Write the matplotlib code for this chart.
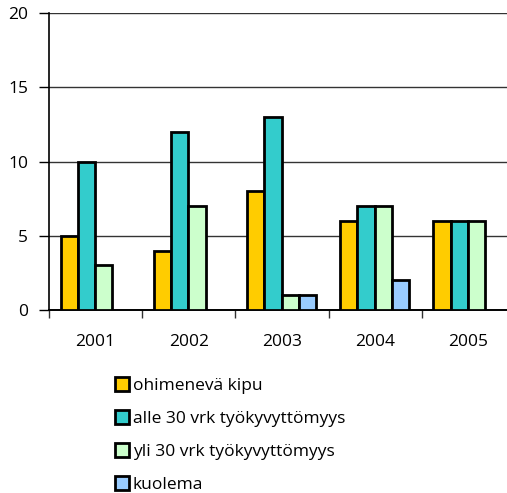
import matplotlib
matplotlib.use("Agg")
import matplotlib.pyplot as plt
from matplotlib.patches import Patch
import numpy as np

plt.rcParams['font.family'] = ['Open Sans', 'DejaVu Sans']

years = ["2001", "2002", "2003", "2004", "2005"]
series_names = ["ohimenevä kipu", "alle 30 vrk työkyvyttömyys",
                "yli 30 vrk työkyvyttömyys", "kuolema"]
ohimeneva = [5, 4, 8, 6, 6]
alle30 = [10, 12, 13, 7, 6]
yli30 = [3, 7, 1, 7, 6]
kuolema = [0, 0, 1, 2, 0]
colors = ["#FFCC00", "#33CCCC", "#CCFFCC", "#99CCFF"]
yticks = [0, 5, 10, 15, 20]

W, H = 507, 493
fig = plt.figure(figsize=(W / 100, H / 100), dpi=100)
left, right, top, bottom = 49, 515, 13, 310
ax = fig.add_axes([left / W, 1 - bottom / H, (right - left) / W, (bottom - top) / H])

data = [ohimeneva, alle30, yli30, kuolema]
bw = 17.3 / 93.2
start = 11.5 / 93.2
x = np.arange(len(years))
for k, (vals, c) in enumerate(zip(data, colors)):
    vals = np.array(vals, dtype=float)
    mask = vals > 0
    ax.bar(x[mask] + start + bw * k, vals[mask], width=bw, align='edge',
           color=c, edgecolor='black', linewidth=2.0, zorder=3)

ax.set_xlim(0, len(years))
ax.set_ylim(0, 20)
ax.set_yticks(yticks)
ax.set_yticklabels([str(t) for t in yticks], fontsize=12.5)
ax.yaxis.grid(True, color='#333333', linewidth=1.0, zorder=0)
ax.set_axisbelow(True)

ax.set_xticks(np.arange(len(years) + 1))
ax.set_xticklabels([])
ax.set_xticks(x + 0.5, minor=True)
ax.set_xticklabels(years, minor=True, fontsize=12.5)
ax.tick_params(axis='x', which='major', length=6, width=1, color='#333333', direction='out')
ax.tick_params(axis='x', which='minor', length=0, pad=17)
ax.tick_params(axis='y', length=7, width=1, direction='out', pad=8)

for s in ['top', 'right']:
    ax.spines[s].set_visible(False)
ax.spines['left'].set_linewidth(1.2)
ax.spines['bottom'].set_linewidth(1.4)

handles = [Patch(facecolor=c, edgecolor='black', linewidth=2.0) for c in colors]
fig.legend(handles, series_names, loc='upper left',
           bbox_to_anchor=(106 / W, 1 - 368 / H), frameon=False,
           fontsize=12.5, handlelength=0.85, handleheight=0.85,
           handletextpad=0.2, labelspacing=0.93, borderpad=0)

fig.savefig("out.png", dpi=100)
